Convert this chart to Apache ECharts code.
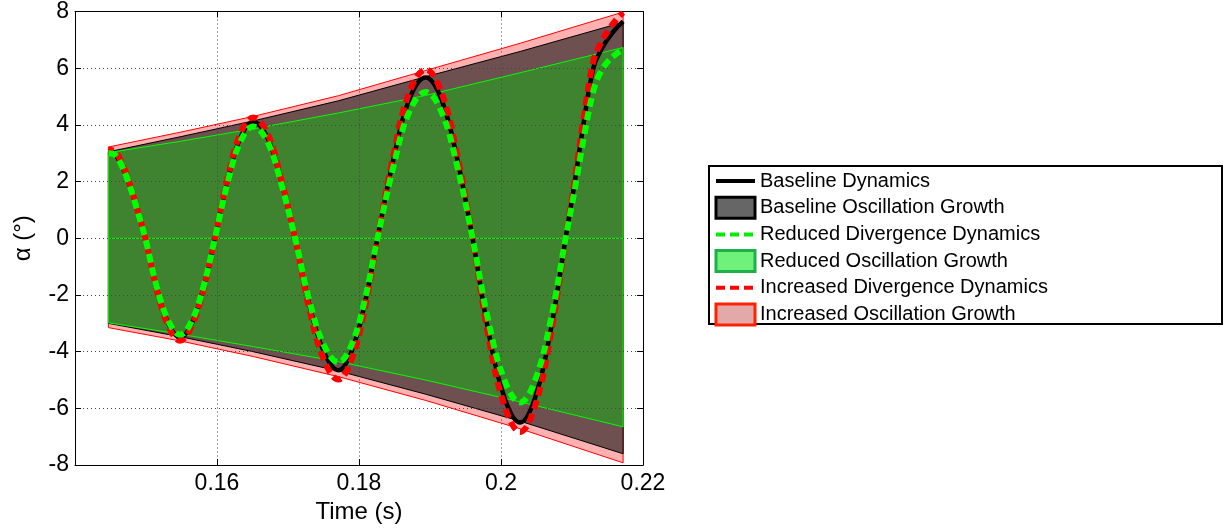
<!DOCTYPE html>
<html>
<head>
<meta charset="utf-8">
<script src="https://cdn.jsdelivr.net/npm/echarts@6/dist/echarts.min.js"></script>
<style>
html,body{margin:0;padding:0;background:#fff;}
#chart{width:1224px;height:529px;}
</style>
</head>
<body>
<div id="chart"></div>
<script>
// ---- axis ticks ----
const xTicks = [0.14, 0.16, 0.18, 0.2, 0.22];
const yTicks = [-8, -6, -4, -2, 0, 2, 4, 6, 8];

// ---- time samples for the dynamics curves (s) ----
const time = [0.1447,0.1456,0.1465,0.1475,0.1487,0.1499,
  0.1515,0.1532,0.1548,0.1564,0.1581,0.1597,
  0.1615,0.1633,0.1651,0.1671,0.1690,0.1710,
  0.1730,0.1751,0.1771,0.1789,0.1808,0.1826,
  0.1849,0.1871,0.1894,0.1916,0.1938,0.1960,
  0.1982,0.2005,0.2027,0.2048,0.2070,0.2091,
  0.2104,0.2116,0.2130,0.2140,0.2151,0.2162,0.2172];

// ---- alpha (deg) ----
const baselineDyn = [3.00,2.95,2.60,2.00,1.05,0,
  -1.75,-3.03,-3.50,-3.03,-1.75,0,
  2.05,3.55,4.10,3.55,2.05,0,
  -2.33,-4.03,-4.65,-4.03,-2.33,0,
  2.84,4.91,5.67,4.91,2.84,0,
  -3.25,-5.63,-6.50,-5.63,-3.25,0,
  2.00,4.00,6.00,6.60,7.05,7.40,7.65];
const increasedDyn = [3.12,3.07,2.70,2.08,1.09,0,
  -1.80,-3.12,-3.61,-3.12,-1.80,0,
  2.13,3.69,4.26,3.69,2.13,0,
  -2.49,-4.31,-4.98,-4.31,-2.49,0,
  2.98,5.16,5.95,5.16,2.98,0,
  -3.41,-5.91,-6.83,-5.91,-3.41,0,
  2.08,4.16,6.24,6.86,7.33,7.70,7.96];
const reducedDyn = [3.00,2.95,2.60,2.00,1.05,0,
  -1.70,-2.94,-3.40,-2.94,-1.70,0,
  1.97,3.41,3.94,3.41,1.97,0,
  -2.19,-3.79,-4.37,-3.79,-2.19,0,
  2.58,4.47,5.16,4.47,2.58,0,
  -2.89,-5.01,-5.79,-5.01,-2.89,0,
  1.73,3.46,5.19,5.85,6.25,6.50,6.65];

// ---- oscillation growth envelopes ----
const envTime = [0.1447,0.1548,0.1651,0.1771,0.1894,0.2027,0.2172];
const baseUpper = [3.05,3.58,4.14,4.85,5.70,6.59,7.62];
const baseLower = [-3.00,-3.47,-4.00,-4.68,-5.50,-6.45,-7.60];
const incUpper = [3.22,3.74,4.30,5.03,5.92,6.88,7.98];
const incLower = [-3.15,-3.62,-4.17,-4.88,-5.72,-6.72,-7.92];
const redUpper = [3.02,3.42,3.86,4.42,5.04,5.84,6.73];
const redLower = [-2.98,-3.38,-3.82,-4.35,-5.00,-5.77,-6.65];

const FONT = "'Liberation Sans', Arial, sans-serif";

function pairs(xs, ys){ return xs.map((x,i)=>[x, ys[i]]); }

function band(name, upper, lower, fill, stroke, z, zeroLine){
  return {
    type: 'custom', name: name, z: z, silent: true,
    coordinateSystem: 'cartesian2d',
    itemStyle: {color: fill, borderColor: stroke},
    data: [[envTime[0], 0]],
    encode: {x: 0, y: 1},
    renderItem: function(params, api){
      const pts = [];
      for (let i = 0; i < envTime.length; i++) pts.push(api.coord([envTime[i], upper[i]]));
      for (let i = envTime.length - 1; i >= 0; i--) pts.push(api.coord([envTime[i], lower[i]]));
      const children = [{type: 'polygon', shape: {points: pts}, style: {fill: fill, stroke: stroke, lineWidth: 1}}];
      if (zeroLine) {
        const a = api.coord([envTime[0], 0]);
        const b = api.coord([envTime[envTime.length-1], 0]);
        children.push({type: 'line', shape: {x1: a[0], y1: a[1], x2: b[0], y2: b[1]}, style: {stroke: stroke, lineWidth: 1}});
      }
      return {type: 'group', children: children};
    }
  };
}

function curve(name, ys, color, width, dash, offset, z){
  return {
    type: 'line', name: name, z: z, silent: true,
    data: pairs(time, ys),
    showSymbol: false, symbol: 'none', smooth: 0.4,
    lineStyle: {color: color, width: width, type: dash, dashOffset: offset},
    itemStyle: {color: color}
  };
}

const tickCommon = {show: true, inside: true, length: 6, lineStyle: {color: '#000'}};
const noSymbol = {color: 'rgba(0,0,0,0)', borderColor: 'rgba(0,0,0,0)', borderWidth: 0, opacity: 0};

const option = {
  animation: false,
  backgroundColor: '#fff',
  grid: {left: 75, right: 581, top: 8, bottom: 60, containLabel: false},
  xAxis: [{
    type: 'value', min: xTicks[0], max: xTicks[xTicks.length-1], interval: 0.02, z: 3,
    name: 'Time (s)', nameLocation: 'middle', nameGap: 29,
    nameTextStyle: {fontSize: 24, fontFamily: FONT, color: '#000'},
    axisLine: {show: true, onZero: false, lineStyle: {color: '#000', width: 1}},
    axisTick: tickCommon,
    axisLabel: {show: true, showMinLabel: false, margin: 7, fontSize: 23, fontFamily: FONT, color: '#000'},
    splitLine: {show: true, lineStyle: {color: '#444', type: [1, 3], width: 1}}
  }, {
    type: 'value', position: 'top', min: xTicks[0], max: xTicks[xTicks.length-1], interval: 0.02, z: 3,
    axisLine: {show: true, onZero: false, lineStyle: {color: '#000', width: 1}},
    axisTick: tickCommon, axisLabel: {show: false}, splitLine: {show: false}
  }],
  yAxis: [{
    type: 'value', min: yTicks[0], max: yTicks[yTicks.length-1], interval: 2, z: 3,
    name: 'α (°)', nameLocation: 'middle', nameRotate: 90, nameGap: 40,
    nameTextStyle: {fontSize: 24, fontFamily: FONT, color: '#000'},
    axisLine: {show: true, onZero: false, lineStyle: {color: '#000', width: 1}},
    axisTick: tickCommon,
    axisLabel: {show: true, margin: 6, fontSize: 23, fontFamily: FONT, color: '#000'},
    splitLine: {show: true, lineStyle: {color: '#444', type: [1, 3], width: 1}}
  }, {
    type: 'value', position: 'right', min: yTicks[0], max: yTicks[yTicks.length-1], interval: 2, z: 3,
    axisLine: {show: true, onZero: false, lineStyle: {color: '#000', width: 1}},
    axisTick: tickCommon, axisLabel: {show: false}, splitLine: {show: false}
  }],
  legend: {
    orient: 'vertical', left: 714, top: 171, padding: 0,
    itemWidth: 39, itemHeight: 21, itemGap: 4.7,
    textStyle: {fontSize: 20, fontFamily: FONT, color: '#000'},
    data: [
      {name: 'Baseline Dynamics', itemStyle: noSymbol, lineStyle: {width: 4, color: '#000', type: 'solid'}},
      {name: 'Baseline Oscillation Growth', icon: 'rect', itemStyle: {color: '#666666', borderColor: '#000', borderWidth: 3}},
      {name: 'Reduced Divergence Dynamics', itemStyle: noSymbol, lineStyle: {width: 4, color: '#00ee00', type: [9, 5], dashOffset: 0}},
      {name: 'Reduced Oscillation Growth', icon: 'rect', itemStyle: {color: '#6ef27a', borderColor: '#1fb04a', borderWidth: 3}},
      {name: 'Increased Divergence Dynamics', itemStyle: noSymbol, lineStyle: {width: 4, color: '#ff0000', type: [9, 5], dashOffset: 0}},
      {name: 'Increased Oscillation Growth', icon: 'rect', itemStyle: {color: '#e3a9a9', borderColor: '#ff2200', borderWidth: 3}}
    ]
  },
  graphic: [{
    type: 'rect', left: 708, top: 165, z: 0,
    shape: {width: 513, height: 158},
    style: {fill: '#fff', stroke: '#000', lineWidth: 2}
  }],
  series: [
    band('Increased Oscillation Growth', incUpper, incLower, '#ffb0b0', '#ff0000', 1, false),
    band('Baseline Oscillation Growth', baseUpper, baseLower, '#6e5050', '#000000', 1.1, false),
    band('Reduced Oscillation Growth', redUpper, redLower, '#3f8230', '#00ff00', 1.2, true),
    curve('Baseline Dynamics', baselineDyn, '#000000', 4.5, 'solid', 0, 4),
    curve('Increased Divergence Dynamics', increasedDyn, '#ff0000', 6, [9, 5], 4, 5),
    curve('Reduced Divergence Dynamics', reducedDyn, '#00ff00', 6, [9, 5], 0, 6)
  ]
};

const chart = echarts.init(document.getElementById('chart'), null, {renderer: 'canvas'});
chart.setOption(option);
</script>
</body>
</html>
